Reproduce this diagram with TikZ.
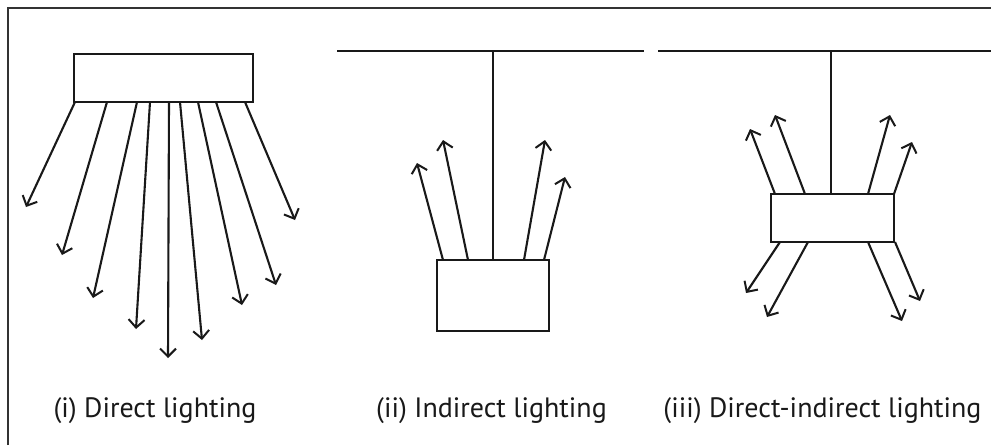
\documentclass[tikz,border=0pt]{standalone}
\usepackage{fontspec}
\setmainfont{PT Sans}
\usetikzlibrary{arrows.meta,calc}
\begin{document}
\begin{tikzpicture}[x=1pt,y=-1pt,
  lamp/.style={draw=black!90,line width=2.4pt,inner sep=0pt,fill=white},
  ray/.style={draw=black!90,-{Straight Barb[length=8pt,width=16pt,line width=2pt]},line width=2.1pt},
  wire/.style={draw=black!90,line width=2.3pt},
  frameline/.style={line width=1.8pt,draw=black!80},
  caption/.style={anchor=base,inner sep=0pt,font=\fontsize{28}{32}\selectfont,text=black!90}]
\useasboundingbox (0,0) rectangle (991,445);
\fill[white] (0,0) rectangle (991,445);
% frame
\coordinate (fbl) at (8,445);
\coordinate (ftl) at (8,8);
\coordinate (ftr) at (991,8);
\draw[frameline] (fbl) -- (ftl) -- (ftr);

% ---------- (i) Direct lighting ----------
\node[lamp,minimum width=179pt,minimum height=48pt] (L1) at (163.5,78) {};
\foreach \sx/\ex/\ey [count=\i] in {75/26/207,107/62/255,137/93/298,150/136/329,169/168/358,180/202/340,198/242/305,216/276/285,245/295/220}{
  \coordinate (s1\i) at (\sx,102);
  \coordinate (e1\i) at (\ex,\ey);
  \draw[ray] (s1\i) -- (e1\i);
}
\node[caption] (c1) at (155,417) {(i) Direct lighting};

% ---------- (ii) Indirect lighting ----------
\coordinate (ceilA1) at (337,51);
\coordinate (ceilA2) at (644,51);
\coordinate (hangA) at (493,51);
\draw[wire] (ceilA1) -- (ceilA2);
\node[lamp,minimum width=112pt,minimum height=71pt] (L2) at (493,295.5) {};
\draw[wire] (hangA) -- (L2.north);
\foreach \sx/\ex/\ey [count=\i] in {443/417/163,468/443/140,524/545/140,544/565/177}{
  \coordinate (s2\i) at (\sx,260);
  \coordinate (e2\i) at (\ex,\ey);
  \draw[ray] (s2\i) -- (e2\i);
}
\node[caption] (c2) at (491.5,417) {(ii) Indirect lighting};

% ---------- (iii) Direct-indirect lighting ----------
\coordinate (ceilB1) at (658,51);
\coordinate (ceilB2) at (991,51);
\coordinate (hangB) at (831,51);
\draw[wire] (ceilB1) -- (ceilB2);
\node[lamp,minimum width=123pt,minimum height=48pt] (L3) at (832.5,218) {};
\draw[wire] (hangB) -- (hangB |- L3.north);
\foreach \sx/\ex/\ey [count=\i] in {775/750/129,805/775/115,868/890/115,894/912/142}{
  \coordinate (s3\i) at (\sx,194);
  \coordinate (e3\i) at (\ex,\ey);
  \draw[ray] (s3\i) -- (e3\i);
}
\foreach \sx/\ex/\ey [count=\i] in {780/746/293,808/767/317,868/902/321,895/920/301}{
  \coordinate (t3\i) at (\sx,242);
  \coordinate (f3\i) at (\ex,\ey);
  \draw[ray] (t3\i) -- (f3\i);
}
\node[caption] (c3) at (822.5,417) {(iii) Direct-indirect lighting};
\end{tikzpicture}
\end{document}
